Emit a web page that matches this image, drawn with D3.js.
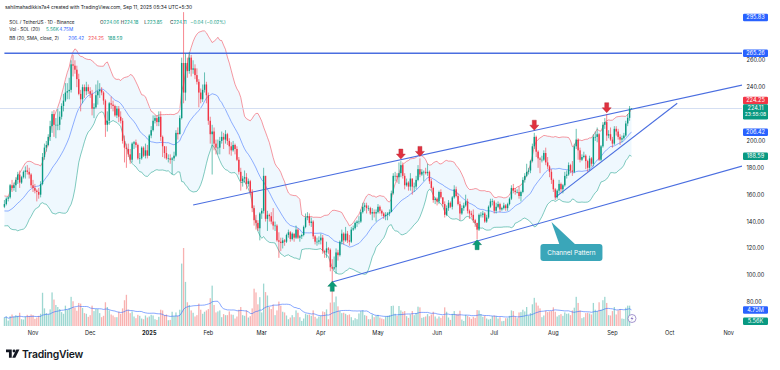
<!DOCTYPE html>
<html>
<head>
<meta charset="utf-8">
<script src="https://cdn.jsdelivr.net/npm/d3@7"></script>
<style>
  body { margin: 0; background: #fff; }
  svg { display: block; font-family: Inter, "Noto Sans", sans-serif; }
</style>
</head>
<body>
<div id="chart"></div>
<script>
// SOL / TetherUS, 1D, Binance. Daily bars from 2024-10-17 to 2025-09-11
const startDate = '2024-10-17'

// closes before the first visible bar (only used to seed the Bollinger bands)
const warmupCloses = [158, 158, 152, 146, 143, 141, 146, 145, 146, 146, 143, 139, 140, 147, 146, 148, 155, 155, 151]

const closes = [
  // Oct 17-31
  153, 157, 158, 167, 165, 167, 171, 175, 169, 173, 177, 178, 177, 175, 167,
  // Nov
  165, 163, 162, 160, 168, 188, 195, 197, 203, 211, 220, 212, 212, 212, 218, 226, 230, 236, 237, 238, 257, 256, 253, 246, 235, 231, 240, 237, 240, 237,
  // Dec
  235, 224, 225, 234, 237, 238, 236, 230, 212, 215, 228, 227, 226, 219, 224, 218, 215, 200, 195, 194, 190, 186, 198, 199, 197, 187, 187, 195, 189, 193, 189,
  // Jan
  204, 208, 215, 217, 214, 218, 203, 196, 191, 187, 187, 186, 187, 189, 206, 205, 217, 258, 236, 258, 252, 262, 253, 254, 249, 244, 236, 231, 238, 242, 234,
  // Feb
  215, 205, 207, 198, 195, 195, 200, 203, 201, 205, 200, 196, 193, 197, 194, 186, 177, 170, 172, 173, 168, 170, 162, 150, 141, 139, 135, 146,
  // Mar
  148, 174, 142, 145, 144, 140, 137, 137, 126, 125, 124, 126, 125, 130, 132, 127, 131, 128, 134, 128, 129, 130, 136, 143, 144, 139, 140, 129, 125, 125, 126,
  // Apr
  128, 118, 117, 120, 119, 106, 105, 106, 117, 115, 125, 131, 126, 131, 126, 125, 134, 135, 139, 140, 140, 147, 151, 152, 150, 150, 146, 147, 146, 147,
  // May
  151, 148, 146, 144, 145, 146, 147, 161, 174, 174, 173, 176, 182, 174, 167, 169, 166, 172, 166, 166, 171, 179, 175, 177, 177, 176, 177, 170, 165, 156, 157,
  // Jun
  155, 162, 158, 153, 145, 150, 154, 151, 158, 164, 159, 153, 146, 150, 152, 155, 148, 146, 145, 141, 139, 134, 145, 145, 146, 140, 143, 151, 155, 155,
  // Jul
  148, 151, 153, 149, 150, 152, 150, 153, 157, 165, 163, 162, 162, 159, 162, 171, 174, 177, 178, 185, 196, 203, 192, 187, 186, 186, 191, 184, 181, 177, 171,
  // Aug
  164, 158, 163, 168, 164, 167, 174, 175, 182, 178, 177, 196, 201, 193, 186, 188, 189, 185, 180, 187, 183, 203, 203, 205, 186, 196, 212, 214, 204, 205, 201,
  // Sep 1-11
  198, 209, 207, 203, 201, 202, 204, 213, 217.2, 224.06, 224.11
]

const highs = [
  156, 158, 159, 168, 171, 169, 173, 177, 178, 174, 178, 181, 182, 180, 176,
  171, 168, 164, 165, 170, 191, 198, 200, 205, 215, 222, 223, 217, 224, 222, 228, 235, 243, 243, 247, 260, 264, 260, 256, 250, 238, 242, 242, 244, 242,
  240, 238, 228, 242, 245, 243, 240, 237, 231, 222, 229, 233, 230, 227, 226, 226, 222, 217, 204, 198, 198, 194, 199, 200, 201, 198, 191, 196, 196, 198, 197,
  205, 211, 219, 219, 219, 222, 222, 204, 196, 196, 190, 190, 188, 192, 208, 210, 219, 262, 295.83, 265, 262, 266, 264, 260, 257, 254, 246, 239, 242, 251, 244,
  236, 218, 212, 210, 201, 201, 203, 207, 206, 208, 206, 202, 199, 200, 198, 196, 188, 180, 174, 178, 176, 172, 171, 164, 152, 145, 141, 147,
  150, 180, 174, 148, 146, 147, 150, 140, 138, 132, 128, 128, 127, 131, 134, 133, 132, 131, 137, 135, 130, 131, 137, 146, 147, 146, 143, 141, 130, 128, 129,
  131, 130, 119, 125, 121, 120, 112, 114, 120, 119, 126, 134, 132, 136, 133, 130, 136, 137, 140, 141, 144, 149, 154, 154, 154, 152, 151, 150, 149, 149,
  153, 152, 149, 147, 147, 147, 149, 163, 176, 177, 176, 184, 185, 184, 176, 172, 170, 176, 172, 169, 174, 182, 187, 179, 178, 180, 183, 178, 172, 166, 158,
  158, 163, 164, 158, 155, 152, 156, 155, 159, 167, 166, 161, 155, 152, 154, 160, 157, 149, 148, 149, 142, 139, 146, 147, 148, 147, 145, 152, 157, 157,
  156, 154, 155, 154, 151, 154, 153, 154, 158, 167, 168, 165, 164, 166, 163, 173, 176, 183, 180, 186, 198, 206, 204, 193, 188, 189, 193, 195, 188, 182, 179,
  172, 165, 164, 171, 169, 168, 177, 178, 184, 183, 185, 198, 209, 202, 195, 190, 192, 190, 186, 189, 188, 205, 207, 210, 206, 197, 214, 217, 220, 208, 210,
  203, 211, 211, 209, 205, 204, 206, 215, 220, 226, 224.18
]

const lows = [
  150, 152, 155, 157, 162, 163, 162, 168, 165, 168, 172, 172, 175, 172, 165,
  162, 161, 155, 157, 158, 167, 186, 192, 196, 200, 206, 203, 202, 208, 208, 216, 222, 229, 231, 231, 236, 248, 250, 240, 234, 222, 228, 232, 234, 235,
  232, 219, 217, 224, 227, 232, 234, 227, 203, 207, 212, 224, 222, 218, 217, 214, 213, 198, 184, 180, 188, 183, 184, 194, 195, 186, 183, 186, 188, 187, 187,
  189, 202, 207, 213, 211, 211, 200, 188, 187, 186, 184, 183, 175, 185, 188, 201, 205, 216, 228, 230, 247, 250, 248, 250, 246, 242, 225, 228, 229, 236, 228,
  212, 198, 175, 193, 190, 190, 190, 198, 194, 198, 197, 190, 189, 192, 190, 185, 175, 163, 166, 169, 164, 166, 160, 147, 137, 134, 133, 126,
  142, 146, 140, 133, 140, 138, 134, 133, 125, 113, 118, 120, 122, 124, 128, 125, 126, 125, 127, 127, 125, 127, 129, 135, 141, 137, 136, 127, 123, 122, 123,
  123, 116, 113, 113, 116, 103, 95, 104, 101, 111, 114, 123, 123, 125, 124, 122, 124, 133, 134, 136, 138, 139, 146, 148, 146, 148, 145, 141, 143, 140,
  146, 146, 144, 142, 141, 141, 144, 147, 160, 170, 169, 168, 173, 172, 164, 166, 163, 163, 160, 162, 164, 170, 173, 174, 170, 175, 174, 168, 163, 154, 153,
  152, 153, 157, 151, 143, 144, 148, 150, 149, 157, 158, 152, 141, 145, 148, 151, 146, 142, 143, 139, 136, 127, 133, 143, 143, 139, 139, 142, 150, 152,
  146, 146, 150, 147, 148, 149, 148, 148, 152, 156, 161, 160, 161, 157, 155, 161, 169, 173, 175, 176, 184, 194, 188, 180, 176, 184, 185, 182, 179, 173, 168,
  162, 156, 157, 161, 162, 161, 166, 172, 174, 176, 174, 176, 194, 186, 184, 185, 187, 179, 177, 178, 181, 181, 200, 199, 185, 185, 195, 209, 200, 202, 200,
  195, 197, 204, 201, 197, 199, 201, 203, 211, 215, 223.85
]

// volume in millions of SOL
const volumes = [
  2.5, 2.8, 1.6, 2.9, 3.4, 2.8, 3.2, 3.0, 3.9, 2.0, 1.9, 2.8, 3.3, 3.0, 3.4,
  3.2, 2.1, 2.5, 3.0, 3.6, 9.8, 5.2, 3.8, 3.5, 4.9, 9.9, 7.8, 6.2, 5.6, 5.0, 4.1, 3.6, 6.0, 4.8, 5.3, 8.6, 7.3, 5.4, 4.5, 6.8, 6.6, 5.3, 3.8, 3.6, 2.7,
  3.2, 6.0, 4.4, 5.0, 5.0, 3.8, 2.6, 3.0, 7.0, 5.6, 4.6, 3.4, 3.1, 2.6, 2.6, 4.2, 3.6, 5.2, 7.6, 9.2, 4.8, 3.8, 4.3, 2.8, 2.3, 3.3, 3.0, 2.2, 2.0, 3.1, 2.5,
  2.8, 3.3, 3.1, 2.0, 1.8, 2.7, 4.8, 4.6, 3.2, 3.4, 1.7, 1.8, 4.2, 2.9, 4.0, 3.0, 4.8, 18.4, 23.0, 13.0, 7.0, 6.2, 4.6, 3.9, 2.8, 3.2, 6.6, 4.8, 3.6, 4.2, 4.6,
  5.0, 8.2, 11.9, 6.2, 4.0, 4.3, 4.6, 2.6, 3.5, 3.2, 3.2, 4.3, 3.4, 3.3, 2.2, 2.8, 4.8, 5.6, 3.2, 3.0, 4.6, 2.5, 2.9, 5.2, 11.0, 9.9, 6.4, 8.5,
  4.0, 12.5, 10.0, 9.0, 5.6, 5.0, 6.3, 3.2, 4.6, 7.2, 6.0, 4.2, 4.0, 3.1, 2.0, 2.5, 3.2, 2.6, 4.6, 3.9, 2.6, 1.5, 2.2, 3.6, 3.3, 3.4, 3.0, 4.6, 2.7, 2.2, 2.8,
  3.0, 4.3, 4.1, 4.9, 2.0, 6.9, 10.7, 7.0, 8.7, 5.8, 4.4, 3.8, 3.9, 3.6, 3.2, 3.4, 2.6, 1.7, 2.3, 2.0, 3.7, 4.4, 4.6, 3.2, 3.0, 2.0, 2.0, 3.4, 2.6, 3.0,
  3.3, 2.5, 2.2, 2.0, 2.8, 3.0, 3.2, 5.9, 6.0, 3.6, 3.0, 5.9, 4.6, 4.2, 4.4, 2.9, 2.4, 3.4, 4.4, 3.2, 3.8, 5.7, 5.5, 2.4, 2.6, 2.8, 3.5, 2.9, 3.4, 4.2, 2.8,
  2.2, 2.8, 2.4, 3.0, 5.5, 4.2, 2.5, 1.8, 3.6, 4.4, 3.5, 3.6, 4.5, 1.9, 1.5, 3.3, 3.0, 2.6, 2.1, 2.7, 2.4, 4.7, 4.6, 3.5, 2.7, 3.0, 2.2, 1.9, 2.1, 2.9,
  3.1, 2.9, 2.2, 2.6, 1.4, 1.5, 2.3, 2.3, 3.0, 4.6, 4.4, 2.8, 2.3, 4.0, 4.1, 4.8, 4.3, 5.6, 3.1, 3.8, 6.4, 8.3, 6.9, 6.0, 5.2, 2.6, 3.1, 4.5, 4.1, 4.3, 4.4,
  5.5, 4.2, 2.8, 3.2, 3.5, 3.0, 4.0, 3.6, 3.7, 3.2, 4.6, 5.4, 8.6, 6.8, 4.6, 2.3, 2.6, 3.8, 3.9, 3.7, 3.4, 6.8, 4.8, 4.4, 7.0, 4.8, 7.6, 8.6, 6.8, 3.2, 3.1,
  4.4, 5.6, 3.4, 4.6, 5.0, 2.2, 2.1, 5.4, 6.0, 6.0, 0.00556
]

const priceTicks = [260, 240, 200, 180, 160, 140, 120, 100, 80]
const monthTicks = [
  ['2024-11-01', 'Nov'], ['2024-12-01', 'Dec'], ['2025-01-01', '2025'], ['2025-02-01', 'Feb'],
  ['2025-03-01', 'Mar'], ['2025-04-01', 'Apr'], ['2025-05-01', 'May'], ['2025-06-01', 'Jun'],
  ['2025-07-01', 'Jul'], ['2025-08-01', 'Aug'], ['2025-09-01', 'Sep'], ['2025-10-01', 'Oct'], ['2025-11-01', 'Nov']
]

// legend rows as shown on the chart: each group is [x, [text, colour key], ...]
const legendRows = [
  [[9.3, ['SOL / TetherUS · 1D · Binance', 'ink']],
   [100, ['O', 'ink'], ['224.06', 'up']],
   [120.7, ['H', 'ink'], ['224.18', 'up']],
   [144.3, ['L', 'ink'], ['223.85', 'up']],
   [170, ['C', 'ink'], ['224.11', 'up']],
   [190.3, ['−0.04 (−0.02%)', 'up']]],
  [[9.3, ['Vol · SOL (20)', 'ink']], [46, ['5.56K', 'up']], [59.3, ['4.75M', 'blue']]],
  [[9.3, ['BB (20, SMA, close, 2)', 'ink']], [68.3, ['206.42', 'blue']], [88.3, ['224.25', 'down']], [107.7, ['188.59', 'up']]]
]

// drawings: [startDate, startPrice, endDate, endPrice]
const trendLines = [
  ['2025-01-24', 152.3, '2025-11-08', 241.5],
  ['2025-04-07', 95, '2025-11-08', 181.3],
  ['2025-08-02', 158, '2025-10-05', 228]
]
const levelLine = 265.26
const athLabel = 295.83
const downArrows = [['2025-05-13', 186.5], ['2025-05-23', 188.5], ['2025-07-22', 208], ['2025-08-29', 221]]
const upArrows = [['2025-04-07', 95.5], ['2025-06-22', 126.5]]
const callout = { date: '2025-07-31', price: 139.6, text: 'Channel Pattern' }

const width = 780
const height = 370
const plotRight = 742
const upColor = '#089981'
const downColor = '#f23645'
const blue = '#2962ff'
const ink = '#131722'
const colors = { ink: ink, up: upColor, down: downColor, blue: blue }

const parseDate = d3.utcParse('%Y-%m-%d')
const day0 = parseDate(startDate)
const bars = closes.map((c, i) => ({
  date: d3.utcDay.offset(day0, i),
  open: i === 0 ? warmupCloses[warmupCloses.length - 1] : closes[i - 1],
  close: c,
  high: highs[i],
  low: lows[i],
  volume: volumes[i]
}))

// Bollinger Bands (20, SMA, close, 2) and volume SMA 20
const allCloses = warmupCloses.concat(closes)
bars.forEach((d, i) => {
  const end = i + warmupCloses.length + 1
  const win = allCloses.slice(Math.max(0, end - 20), end)
  const mean = d3.mean(win)
  const sd = Math.sqrt(d3.mean(win, (v) => (v - mean) * (v - mean)))
  d.basis = mean
  d.upper = mean + 2 * sd
  d.lower = mean - 2 * sd
  d.volMa = d3.mean(volumes.slice(Math.max(0, i - 19), i + 1))
})

const x = d3.scaleUtc().domain([parseDate('2024-11-01'), parseDate('2025-11-01')]).range([33, 728.7])
const y = d3.scaleLinear().domain([100, 260]).range([275.3, 60.3])
const yVol = d3.scaleLinear().domain([0, 23]).range([326, 248])

const svg = d3.select('#chart').append('svg').attr('width', width).attr('height', height)
svg.append('rect').attr('width', width).attr('height', height).attr('fill', '#fff')

svg.append('defs').append('clipPath').attr('id', 'plotClip')
  .append('rect').attr('x', 0).attr('y', 0).attr('width', plotRight).attr('height', 328)

const plot = svg.append('g').attr('clip-path', 'url(#plotClip)')

// volume pane
plot.append('g').selectAll('rect').data(bars).join('rect')
  .attr('x', (d) => x(d.date) - 0.65)
  .attr('width', 1.3)
  .attr('y', (d) => yVol(d.volume))
  .attr('height', (d) => yVol(0) - yVol(d.volume))
  .attr('fill', (d) => (d.close >= d.open ? 'rgba(38,166,154,0.45)' : 'rgba(239,83,80,0.45)'))

plot.append('path').datum(bars)
  .attr('fill', 'none').attr('stroke', blue).attr('stroke-width', 0.7).attr('opacity', 0.8)
  .attr('d', d3.line().x((d) => x(d.date)).y((d) => yVol(d.volMa)))

// bollinger bands
plot.append('path').datum(bars)
  .attr('fill', 'rgba(33,150,243,0.07)')
  .attr('d', d3.area().x((d) => x(d.date)).y0((d) => y(d.lower)).y1((d) => y(d.upper)))
const bandLine = (key) => d3.line().x((d) => x(d.date)).y((d) => y(d[key]))
plot.append('path').datum(bars).attr('fill', 'none').attr('stroke', blue).attr('stroke-width', 0.6).attr('opacity', 0.85).attr('d', bandLine('basis'))
plot.append('path').datum(bars).attr('fill', 'none').attr('stroke', downColor).attr('stroke-width', 0.6).attr('opacity', 0.85).attr('d', bandLine('upper'))
plot.append('path').datum(bars).attr('fill', 'none').attr('stroke', upColor).attr('stroke-width', 0.6).attr('opacity', 0.85).attr('d', bandLine('lower'))

// last price line
const last = bars[bars.length - 1]
plot.append('line')
  .attr('x1', 0).attr('x2', plotRight).attr('y1', y(last.close)).attr('y2', y(last.close))
  .attr('stroke', '#c9d6ee').attr('stroke-width', 0.8)

// horizontal level and trend lines
plot.append('line')
  .attr('x1', x(day0)).attr('x2', plotRight).attr('y1', y(levelLine)).attr('y2', y(levelLine))
  .attr('stroke', '#4a6ee0').attr('stroke-width', 1.3)
plot.append('g').selectAll('line').data(trendLines).join('line')
  .attr('x1', (d) => x(parseDate(d[0]))).attr('y1', (d) => y(d[1]))
  .attr('x2', (d) => x(parseDate(d[2]))).attr('y2', (d) => y(d[3]))
  .attr('stroke', '#4a6ee0').attr('stroke-width', 1.1)

// candles
const candles = plot.append('g')
candles.selectAll('line').data(bars).join('line')
  .attr('x1', (d) => x(d.date)).attr('x2', (d) => x(d.date))
  .attr('y1', (d) => y(d.high)).attr('y2', (d) => y(d.low))
  .attr('stroke', (d) => (d.close >= d.open ? upColor : downColor))
  .attr('stroke-width', 0.6)
candles.selectAll('rect').data(bars).join('rect')
  .attr('x', (d) => x(d.date) - 0.7)
  .attr('width', 1.4)
  .attr('y', (d) => y(Math.max(d.open, d.close)))
  .attr('height', (d) => Math.max(0.6, Math.abs(y(d.open) - y(d.close))))
  .attr('fill', (d) => (d.close >= d.open ? upColor : downColor))

// arrow marks
const downPath = 'M0,0 L-4.5,-5 L-2,-5 L-2,-10 L2,-10 L2,-5 L4.5,-5 Z'
const upPath = 'M0,0 L-4.5,5 L-2,5 L-2,10 L2,10 L2,5 L4.5,5 Z'
plot.append('g').selectAll('path').data(downArrows).join('path')
  .attr('transform', (d) => `translate(${x(parseDate(d[0]))},${y(d[1])})`)
  .attr('d', downPath).attr('fill', '#e0313f').attr('stroke', '#b3202d').attr('stroke-width', 0.4)
plot.append('g').selectAll('path').data(upArrows).join('path')
  .attr('transform', (d) => `translate(${x(parseDate(d[0]))},${y(d[1])})`)
  .attr('d', upPath).attr('fill', '#0b9b78').attr('stroke', '#07735a').attr('stroke-width', 0.4)

// callout
const cx = x(parseDate(callout.date))
const cy = y(callout.price)
const co = svg.append('g').attr('transform', `translate(${cx},${cy})`)
co.append('path').attr('d', 'M0,0 L24,22.5 L8,22.5 Z').attr('fill', '#3aa6b9')
co.append('rect').attr('x', -11).attr('y', 22).attr('width', 62).attr('height', 17).attr('rx', 3).attr('fill', '#3aa6b9')
co.append('text').attr('x', 20).attr('y', 33).attr('text-anchor', 'middle')
  .attr('font-size', 6.4).attr('fill', '#fff').text(callout.text)

// event marker near the last bar
const ev = svg.append('g').attr('transform', `translate(${x(last.date) + 0.5},318.5)`)
ev.append('circle').attr('r', 4).attr('fill', '#fff').attr('stroke', '#8e7cc3').attr('stroke-width', 0.8)
ev.append('path').attr('d', 'M0.8,-2.6 L-1.6,0.4 L0,0.4 L-0.8,2.6 L1.6,-0.4 L0,-0.4 Z').attr('fill', '#8e7cc3')

// price axis
const axis = svg.append('g').attr('font-size', 5.6).attr('fill', ink)
axis.selectAll('text').data(priceTicks).join('text')
  .attr('x', 746.5).attr('y', (d) => y(d) + 2)
  .text((d) => d.toFixed(2))

const boxLabel = (cyBox, h, color, lines) => {
  svg.append('rect').attr('x', 743).attr('y', cyBox - h / 2).attr('width', 25).attr('height', h)
    .attr('rx', 1.2).attr('fill', color)
  lines.forEach((t, i) => {
    svg.append('text').attr('x', 755.5).attr('y', cyBox - h / 2 + 5.6 + i * 6.6)
      .attr('text-anchor', 'middle').attr('font-size', i === 0 ? 5.6 : 5).attr('fill', '#fff').text(t)
  })
}
const legendText = (r, g) => legendRows[r][g][legendRows[r][g].length - 1][0]
boxLabel(17.5, 7.5, blue, [athLabel.toFixed(2)])
boxLabel(y(levelLine), 7.5, blue, [levelLine.toFixed(2)])
const lastTop = y(last.close) - 4.3
boxLabel(lastTop - 3.8, 7.5, downColor, [legendText(2, 2)])
boxLabel(lastTop + 7.6, 15.2, upColor, [legendText(0, 4), '23:55:08'])
boxLabel(y(last.basis), 7.5, blue, [legendText(2, 1)])
boxLabel(y(last.lower), 7.5, upColor, [legendText(2, 3)])
boxLabel(yVol(last.volMa), 7.5, blue, [legendText(1, 2)])
boxLabel(Math.min(yVol(last.volume), 321.3), 7.5, upColor, [legendText(1, 1)])

// time axis
svg.append('g').selectAll('text').data(monthTicks).join('text')
  .attr('x', (d) => x(parseDate(d[0]))).attr('y', 334.5)
  .attr('text-anchor', 'middle').attr('font-size', 5.6).attr('fill', ink)
  .attr('font-weight', (d) => (d[1] === '2025' ? 700 : 400))
  .text((d) => d[1])

// legend
const legend = svg.append('g')
legend.append('text').attr('x', 5).attr('y', 9).attr('font-size', 4.9).attr('fill', ink)
  .attr('textLength', 187).attr('lengthAdjust', 'spacingAndGlyphs')
  .text('sahilmahadikkis7a4 created with TradingView.com, Sep 11, 2025 05:34 UTC+5:30')
const rowY = [23.7, 31.3, 39.5]
legendRows.forEach((groups, r) => {
  groups.forEach(([gx, ...parts]) => {
    const t = legend.append('text').attr('x', gx).attr('y', rowY[r]).attr('font-size', 4.7)
    parts.forEach(([s, c]) => t.append('tspan').attr('fill', colors[c]).text(s))
  })
})

// TradingView logo
const logo = svg.append('g').attr('transform', 'translate(6,349.5) scale(0.82)').attr('fill', ink)
logo.append('path').attr('d', 'M0,0 H7 V10 H3.6 V3.4 H0 Z')
logo.append('circle').attr('cx', 9.8).attr('cy', 1.8).attr('r', 1.8)
logo.append('path').attr('d', 'M12.6,0 H16.4 L11.4,10 H7.6 Z')
svg.append('text').attr('x', 22).attr('y', 358).attr('font-size', 10.4).attr('font-weight', 600)
  .attr('fill', ink).attr('letter-spacing', -0.2).text('TradingView')
</script>
</body>
</html>
